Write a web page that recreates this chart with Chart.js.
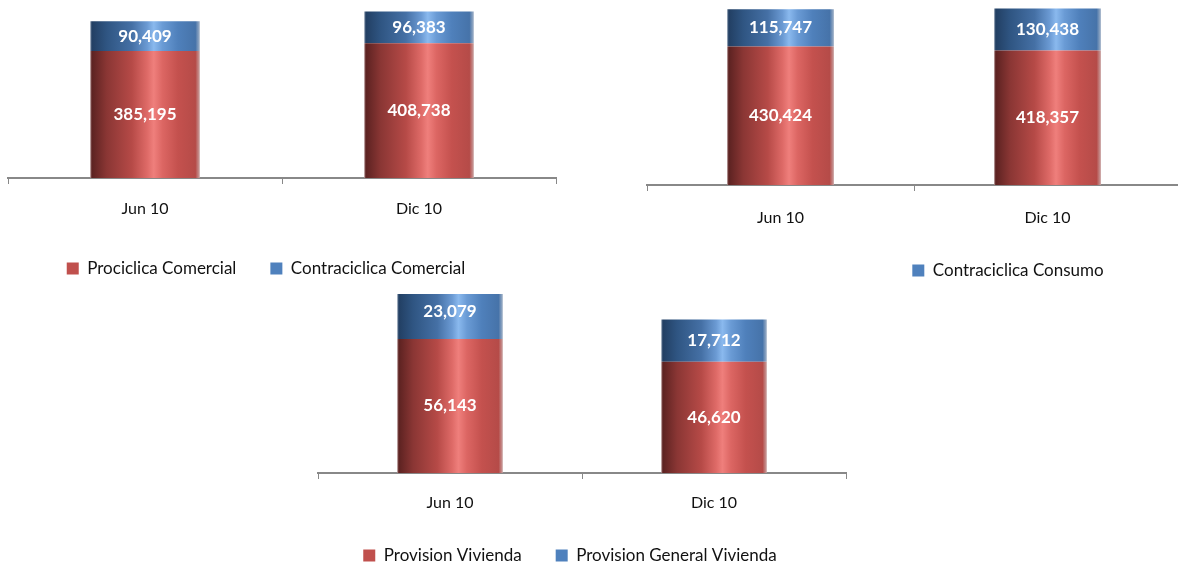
<!DOCTYPE html>
<html>
<head>
<meta charset="utf-8">
<script src="https://cdn.jsdelivr.net/npm/chart.js@4.4.1/dist/chart.umd.min.js"></script>
<style>
  html, body { margin: 0; padding: 0; background: #fff; }
  body { width: 1178px; height: 564px; position: relative; overflow: hidden; }
  canvas { position: absolute; }
</style>
</head>
<body>
<canvas id="comercial" width="584" height="287" style="left:-26px;top:0px"></canvas>
<canvas id="consumo" width="776" height="289" style="left:620px;top:0px"></canvas>
<canvas id="vivienda" width="560" height="280" style="left:290px;top:294px"></canvas>
<script>
const periods = ['Jun 10', 'Dic 10']

const prociclicaComercial = [385195, 408738]
const contraciclicaComercial = [90409, 96383]

const prociclicaConsumo = [430424, 418357]
const contraciclicaConsumo = [115747, 130438]

const provisionVivienda = [56143, 46620]
const provisionGeneralVivienda = [23079, 17712]

const FONT = 'Lato, "Open Sans", sans-serif'
const RED = '#c0504d'
const BLUE = '#4f81bd'

// colores tipo cilindro (sombra izquierda, brillo al centro)
const redStops = [
  [0, '#b89a9a'], [0.015, '#5c2221'], [0.15, '#8a3634'], [0.38, '#b64a47'], [0.52, '#de6a67'],
  [0.58, '#ef7f7c'], [0.66, '#dc6663'], [0.8, '#c4514e'], [0.96, '#b54b48'], [1, '#c9a3a2']
]
const blueStops = [
  [0, '#9aa8ba'], [0.015, '#223f63'], [0.15, '#2f5582'], [0.38, '#4570a5'], [0.52, '#6b9ad3'],
  [0.58, '#8ab9ee'], [0.66, '#6a9bd5'], [0.8, '#4f80bb'], [0.96, '#4673a9'], [1, '#a3b3c8']
]

function cylinder(stops, flat){
  return (ctx) => {
    const chart = ctx.chart
    const x = chart.scales && chart.scales.x
    if (!x || ctx.type !== 'data' || !chart.chartArea) return flat
    const cx = x.getPixelForValue(ctx.dataIndex)
    const w = x.width / periods.length * 0.4
    const g = chart.ctx.createLinearGradient(cx - w / 2, 0, cx + w / 2, 0)
    stops.forEach(s => g.addColorStop(s[0], s[1]))
    return g
  }
}

const valueLabels = {
  id: 'valueLabels',
  afterDatasetsDraw(chart){
    const ctx = chart.ctx
    ctx.save()
    ctx.font = 'bold 17px ' + FONT
    ctx.fillStyle = '#fff'
    ctx.textAlign = 'center'
    ctx.textBaseline = 'middle'
    chart.data.datasets.forEach((ds, i) => {
      chart.getDatasetMeta(i).data.forEach((bar, j) => {
        const y = (bar.y + bar.base) / 2
        ctx.fillText(ds.data[j].toLocaleString('en-US'), bar.x, y)
      })
    })
    ctx.restore()
  }
}

function makeChart(id, cfg){
  new Chart(document.getElementById(id), {
    type: 'bar',
    data: {
      labels: periods,
      datasets: [
        {
          label: cfg.redLabel,
          data: cfg.red,
          backgroundColor: cylinder(redStops, RED),
          borderWidth: 0
        },
        {
          label: cfg.blueLabel,
          data: cfg.blue,
          backgroundColor: cylinder(blueStops, BLUE),
          borderWidth: 0
        }
      ]
    },
    options: {
      responsive: false,
      animation: false,
      events: [],
      barPercentage: 0.4,
      categoryPercentage: 1,
      layout: { padding: 0 },
      scales: {
        x: {
          stacked: true,
          grid: { drawOnChartArea: false, drawTicks: true, tickLength: 6, color: '#888', lineWidth: 1 },
          border: { color: '#888', width: 2 },
          ticks: { color: '#111', padding: cfg.labelPad, font: { family: FONT, size: 16 } },
          afterFit: s => { s.height = cfg.scaleH }
        },
        y: {
          stacked: true,
          min: 0,
          max: cfg.max,
          grid: { display: false },
          border: { display: false },
          ticks: { display: false },
          afterFit: s => { s.width = cfg.leftW }
        },
        y2: {
          position: 'right',
          grid: { display: false },
          border: { display: false },
          ticks: { display: false },
          afterFit: s => { s.width = cfg.rightW }
        }
      },
      plugins: {
        tooltip: { enabled: false },
        legend: {
          position: 'bottom',
          labels: {
            boxWidth: 12,
            boxHeight: 12,
            padding: 34,
            color: '#111',
            font: { family: FONT, size: 17 },
            generateLabels: chart => {
              const items = Chart.defaults.plugins.legend.labels.generateLabels(chart)
              items.forEach(it => {
                it.fillStyle = it.datasetIndex === 0 ? RED : BLUE
                it.strokeStyle = it.fillStyle
                it.lineWidth = 0
              })
              return items
            },
            filter: item => cfg.legendAll || item.datasetIndex === 1
          }
        }
      }
    },
    plugins: [valueLabels]
  })
}

makeChart('comercial', {
  red: prociclicaComercial, blue: contraciclicaComercial,
  redLabel: 'Prociclica Comercial', blueLabel: 'Contraciclica Comercial',
  legendAll: true, max: 540000, leftW: 34, rightW: 2, scaleH: 48, labelPad: 15
})

makeChart('consumo', {
  red: prociclicaConsumo, blue: contraciclicaConsumo,
  redLabel: 'Prociclica Consumo', blueLabel: 'Contraciclica Consumo',
  legendAll: false, max: 575000, leftW: 27, rightW: 215, scaleH: 43, labelPad: 17
})

makeChart('vivienda', {
  red: provisionVivienda, blue: provisionGeneralVivienda,
  redLabel: 'Provision Vivienda', blueLabel: 'Provision General Vivienda',
  legendAll: true, max: 75000, leftW: 28, rightW: 4, scaleH: 40, labelPad: 14
})
</script>
</body>
</html>
